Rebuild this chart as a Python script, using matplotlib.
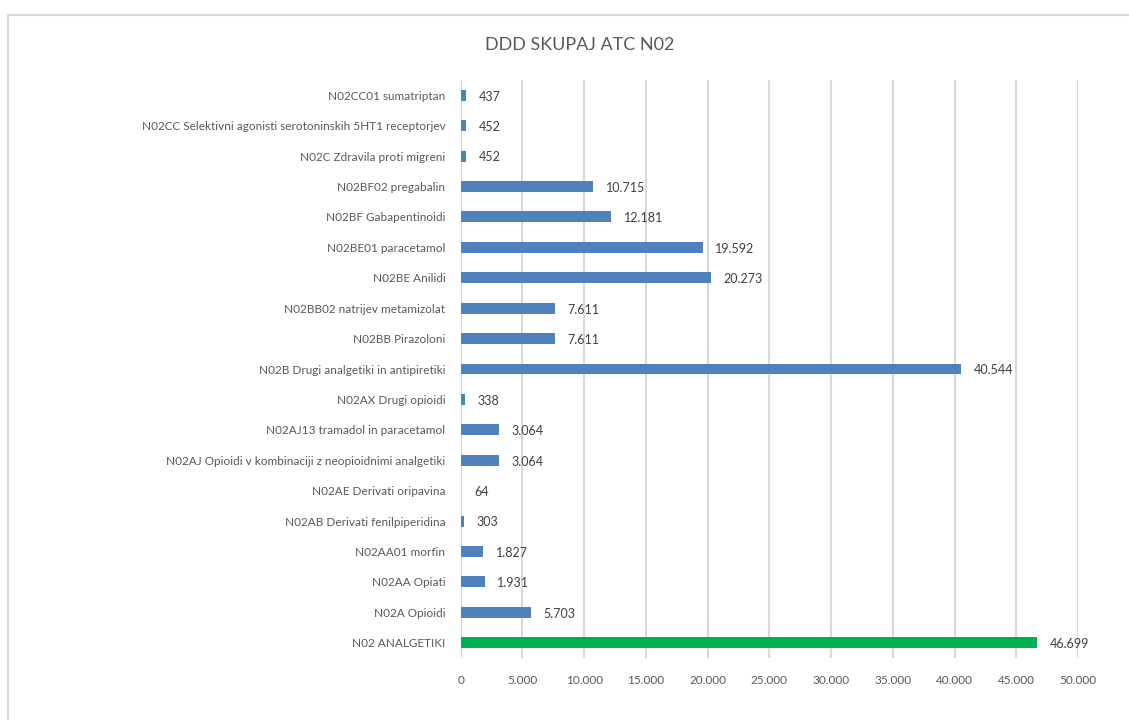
import matplotlib
matplotlib.use("Agg")
import matplotlib.pyplot as plt
from matplotlib.lines import Line2D

plt.rcParams['font.family'] = ['Lato', 'DejaVu Sans']

categories = [
    "N02 ANALGETIKI",
    "N02A Opioidi",
    "N02AA Opiati",
    "N02AA01 morfin",
    "N02AB Derivati fenilpiperidina",
    "N02AE Derivati oripavina",
    "N02AJ Opioidi v kombinaciji z neopioidnimi analgetiki",
    "N02AJ13 tramadol in paracetamol",
    "N02AX Drugi opioidi",
    "N02B Drugi analgetiki in antipiretiki",
    "N02BB Pirazoloni",
    "N02BB02 natrijev metamizolat",
    "N02BE Anilidi",
    "N02BE01 paracetamol",
    "N02BF Gabapentinoidi",
    "N02BF02 pregabalin",
    "N02C Zdravila proti migreni",
    "N02CC Selektivni agonisti serotoninskih 5HT1 receptorjev",
    "N02CC01 sumatriptan",
]
ddd = [46699, 5703, 1931, 1827, 303, 64, 3064, 3064, 338, 40544,
       7611, 7611, 20273, 19592, 12181, 10715, 452, 452, 437]
x_ticks = [0, 5000, 10000, 15000, 20000, 25000, 30000, 35000, 40000, 45000, 50000]
title = "DDD SKUPAJ ATC N02"

BLUE = "#4F81BD"
GREEN = "#00B050"
TEXT = "#595959"
GRID = "#D9D9D9"


def fmt(v):
    return f"{v:,}".replace(",", ".")


fig = plt.figure(figsize=(11.29, 7.2), dpi=100)
fig.patch.set_facecolor("white")

# chart frame
fig.add_artist(Line2D([8 / 1129, 8 / 1129], [0, 1 - 15 / 720], transform=fig.transFigure,
                      color=GRID, lw=1.5))
fig.add_artist(Line2D([8 / 1129, 1], [1 - 15 / 720, 1 - 15 / 720], transform=fig.transFigure,
                      color=GRID, lw=1.5))

ax = fig.add_axes([460.7 / 1129, 62 / 720, 617.3 / 1129, 578 / 720])
colors = [GREEN] + [BLUE] * (len(ddd) - 1)
y = list(range(len(categories)))
ax.barh(y, ddd, height=0.36, color=colors, zorder=3)

for yi, v in zip(y, ddd):
    ax.annotate(fmt(v), (v, yi), xytext=(9, -1), textcoords="offset points",
                ha="left", va="center", fontsize=9, color="#404040")

ax.set_xlim(0, 50000)
ax.set_ylim(-0.5, len(categories) - 0.5)
ax.set_xticks(x_ticks)
ax.set_xticklabels([fmt(t) for t in x_ticks], fontsize=8.5, color=TEXT)
ax.set_yticks(y)
ax.set_yticklabels(categories, fontsize=8.5, color=TEXT)
ax.tick_params(axis="both", length=0)
ax.tick_params(axis="x", pad=12)
ax.tick_params(axis="y", pad=11)
ax.grid(axis="x", color=GRID, lw=1.5, zorder=0)
for s in ax.spines.values():
    s.set_visible(False)

fig.text(580 / 1129, 1 - 45 / 720, title, ha="center", va="center",
         fontsize=13, color=TEXT)

fig.savefig("out.png", dpi=100, facecolor="white")
